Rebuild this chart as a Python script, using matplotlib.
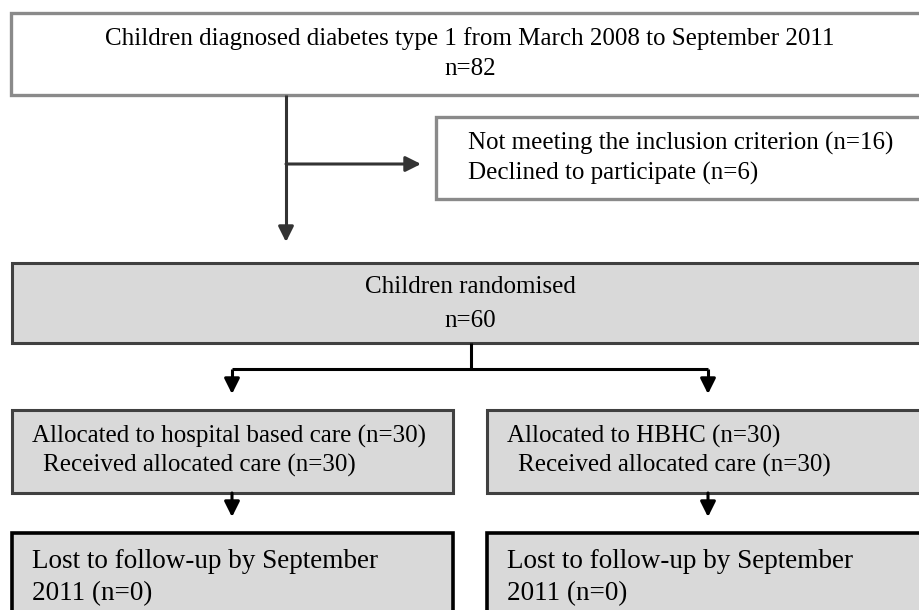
import matplotlib.pyplot as plt
from matplotlib.patches import Rectangle

# box texts of the flow diagram
top_lines = ["Children diagnosed diabetes type 1 from March 2008 to September 2011", "n=82"]
excluded_lines = ["Not meeting the inclusion criterion (n=16)", "Declined to participate (n=6)"]
random_lines = ["Children randomised", "n=60"]
arm_names = ["Allocated to hospital based care (n=30)", "Allocated to HBHC (n=30)"]
arm_received = ["Received allocated care (n=30)", "Received allocated care (n=30)"]
arm_lost = [["Lost to follow-up by September", "2011 (n=0)"],
            ["Lost to follow-up by September", "2011 (n=0)"]]

FONT = "Liberation Serif"
GRAY_FILL = "#d9d9d9"

fig = plt.figure(figsize=(9.19, 6.10), dpi=100)
ax = fig.add_axes([0, 0, 1, 1])
ax.set_xlim(0, 919)
ax.set_ylim(610, 0)
ax.axis("off")


def box(x0, y0, x1, y1, fc, ec, lw):
    ax.add_patch(Rectangle((x0, y0), x1 - x0, y1 - y0, facecolor=fc,
                           edgecolor=ec, linewidth=lw, clip_on=False))


def arrow(x0, y0, x1, y1, color):
    ax.annotate("", xy=(x1, y1), xytext=(x0, y0),
                arrowprops=dict(arrowstyle="-|>,head_length=0.4,head_width=0.2",
                                mutation_scale=23, lw=2.2, color=color,
                                shrinkA=0, shrinkB=0))


def line(xs, ys, color):
    ax.plot(xs, ys, color=color, lw=2.2, solid_capstyle="butt", solid_joinstyle="miter")


# top box
box(11, 13, 935, 95, "white", "#8a8a8a", 2.4)
ax.text(470, 45, top_lines[0], ha="center", va="baseline", family=FONT, fontsize=18)
ax.text(470, 75, top_lines[1], ha="center", va="baseline", family=FONT, fontsize=18)

# exclusion branch
line([286, 286], [95, 230], "#333333")
arrow(286, 242 - 12, 286, 242, "#333333")
arrow(286, 164, 421, 164, "#333333")
box(436, 117, 935, 199, "white", "#8a8a8a", 2.4)
ax.text(468, 150, excluded_lines[0], ha="left", va="baseline", family=FONT, fontsize=18)
ax.text(468, 180, excluded_lines[1], ha="left", va="baseline", family=FONT, fontsize=18)

# randomised box
box(12, 263, 935, 343, GRAY_FILL, "#404040", 2.2)
ax.text(470, 293, random_lines[0], ha="center", va="baseline", family=FONT, fontsize=18)
ax.text(470, 327, random_lines[1], ha="center", va="baseline", family=FONT, fontsize=18)

# split to the two arms
arm_x = [232, 708]
arm_left = [12, 487]
arm_right = [453, 935]
line([471, 471], [343, 369], "black")
line([arm_x[0], arm_x[1]], [369, 369], "black")
for i in range(2):
    line([arm_x[i], arm_x[i]], [369, 382], "black")
    arrow(arm_x[i], 381, arm_x[i], 394, "black")

    box(arm_left[i], 410, arm_right[i], 493, GRAY_FILL, "#404040", 2.2)
    ax.text(arm_left[i] + 20, 443, arm_names[i], ha="left", va="baseline",
            family=FONT, fontsize=18)
    ax.text(arm_left[i] + 31, 472, arm_received[i], ha="left", va="baseline",
            family=FONT, fontsize=18)

    arrow(arm_x[i], 493, arm_x[i], 517, "black")

    box(arm_left[i], 533, arm_right[i], 640, GRAY_FILL, "black", 2.6)
    ax.text(arm_left[i] + 20, 568, arm_lost[i][0], ha="left", va="baseline",
            family=FONT, fontsize=19.5)
    ax.text(arm_left[i] + 20, 600, arm_lost[i][1], ha="left", va="baseline",
            family=FONT, fontsize=19.5)

fig.savefig("out.png", dpi=100)
